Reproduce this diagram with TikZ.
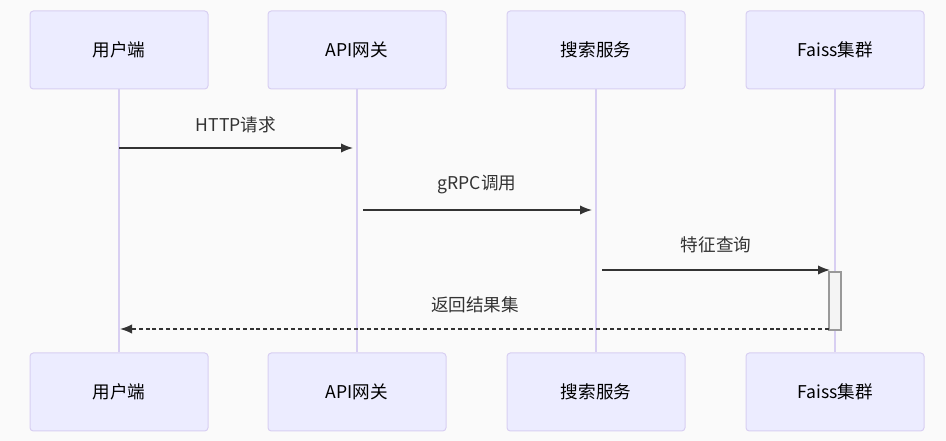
\documentclass[tikz,border=0pt]{standalone}
\usepackage{fontspec}
\setmainfont{Noto Sans CJK SC}
\usetikzlibrary{arrows.meta}
\definecolor{actorfill}{HTML}{ECECFF}
\definecolor{actorline}{HTML}{D8CFF2}
\definecolor{msgline}{HTML}{333333}
\definecolor{bgcol}{HTML}{FAFAFA}
\definecolor{actfill}{HTML}{F4F4F4}
\definecolor{actline}{HTML}{999999}
\begin{document}
\begin{tikzpicture}
            [x=0.75pt,y=-0.75pt,
             Actor/.style={draw=actorline,fill=actorfill,line width=0.75pt,rounded corners=2.5pt,minimum width=133.5pt,minimum height=58.5pt,inner sep=0pt,text=black,font=\fontsize{13.2}{15}\selectfont},
             Life/.style={draw=actorline,line width=1.2pt},
             Msg/.style={draw=msgline,line width=1.1pt,-{Latex[length=9pt,width=7pt]}},
             Label/.style={text=msgline,font=\fontsize{13.2}{15}\selectfont}];
            \useasboundingbox[fill=bgcol] (0,0) rectangle (946,441);
            % actors, top and bottom
            \node[Actor] (user) at (119,50) {用户端};
            \node[Actor] (gw) at (357,50) {API网关};
            \node[Actor] (search) at (596,50) {搜索服务};
            \node[Actor] (faiss) at (835,50) {Faiss集群};
            \node[Actor] (userb) at (119,392) {用户端};
            \node[Actor] (gwb) at (357,392) {API网关};
            \node[Actor] (searchb) at (596,392) {搜索服务};
            \node[Actor] (faissb) at (835,392) {Faiss集群};
            \draw[Life] (user) -- (userb);
            \draw[Life] (gw) -- (gwb);
            \draw[Life] (search) -- (searchb);
            \draw[Life] (faiss) -- (faissb);
            % activation
            \node[draw=actline,fill=actfill,line width=0.9pt,minimum width=9pt,minimum height=43.5pt,inner sep=0pt] (act) at (835,301) {};
            % messages
            \coordinate (m1s) at (119,148);
            \coordinate (m1e) at (353,148);
            \coordinate (m2s) at (363,210);
            \coordinate (m2e) at (592,210);
            \coordinate (m3s) at (602,270);
            \coordinate (m3e) at (830,270);
            \coordinate (m4s) at (829,329);
            \coordinate (m4e) at (120,329);
            \draw[Msg] (m1s) -- (m1e);
            \node[Label] (l1) at (236,125) {HTTP请求};
            \draw[Msg] (m2s) -- (m2e);
            \node[Label] (l2) at (477,185) {gRPC调用};
            \draw[Msg] (m3s) -- (m3e);
            \node[Label] (l3) at (716,245) {特征查询};
            \draw[Msg,dashed,dash pattern=on 3pt off 2.2pt] (m4s) -- (m4e);
            \node[Label] (l4) at (475,305) {返回结果集};
        \end{tikzpicture}
\end{document}
